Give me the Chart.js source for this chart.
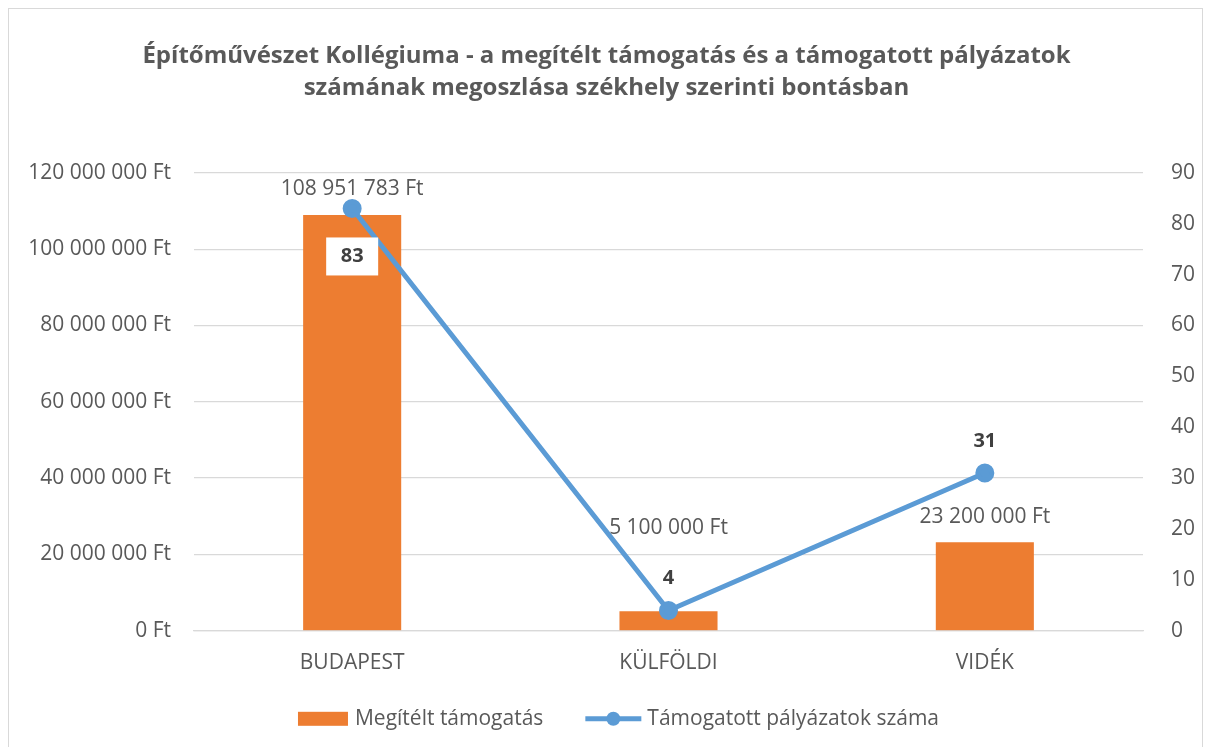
<!DOCTYPE html>
<html>
<head>
<meta charset="utf-8">
<script src="https://cdn.jsdelivr.net/npm/chart.js@4"></script>
<style>
  html, body { margin: 0; padding: 0; background: #fff; }
  #wrap { position: absolute; left: 8px; top: 8px; width: 1195px; height: 739px; border: 1px solid #d9d9d9; border-bottom: none; box-sizing: border-box; }
  canvas { position: absolute; left: 0; top: 0; }
</style>
</head>
<body>
<div id="wrap"><canvas id="myChart" width="1195" height="739"></canvas></div>
<script>
const labels = ['BUDAPEST', 'KÜLFÖLDI', 'VIDÉK'];
const tamogatas = [108951783, 5100000, 23200000];
const palyazatok = [83, 4, 31];

// label offsets in px (style only)
const barLabelOffsets = [-26, -83, -25];
const pointLabelOffsets = [48, -32, -32];

const gray = '#595959';
const font = '"Open Sans", sans-serif';
const orange = '#ed7d31';
const blue = '#5b9bd5';

function ft(v) {
  return String(Math.round(v)).replace(/\B(?=(\d{3})+(?!\d))/g, ' ') + ' Ft';
}

const labelPlugin = {
  id: 'labels',
  afterDatasetsDraw(chart) {
    const ctx = chart.ctx;
    ctx.save();
    ctx.textAlign = 'center';
    ctx.textBaseline = 'middle';
    const bars = chart.getDatasetMeta(1).data;
    ctx.font = '21px ' + font;
    ctx.fillStyle = gray;
    bars.forEach((b, i) => {
      ctx.fillText(ft(tamogatas[i]), b.x, b.y + barLabelOffsets[i]);
    });
    const pts = chart.getDatasetMeta(0).data;
    ctx.font = 'bold 20px ' + font;
    pts.forEach((p, i) => {
      const y = p.y + pointLabelOffsets[i];
      const txt = String(palyazatok[i]);
      if (pointLabelOffsets[i] > 0) {
        ctx.fillStyle = '#fff';
        ctx.fillRect(p.x - 26, y - 19, 52, 38);
      }
      ctx.fillStyle = '#404040';
      ctx.fillText(txt, p.x, y);
    });
    ctx.restore();
  },
  afterDraw(chart) {
    // legend
    const ctx = chart.ctx;
    ctx.save();
    ctx.font = '21px ' + font;
    ctx.textBaseline = 'middle';
    const t1 = 'Megítélt támogatás';
    const t2 = 'Támogatott pályázatok száma';
    const w1 = ctx.measureText(t1).width;
    const w2 = ctx.measureText(t2).width;
    const total = 50 + 7 + w1 + 42 + 56 + 6 + w2;
    let x = chart.width / 2 - total / 2 + 12;
    const y = chart.chartArea.bottom + 88;
    ctx.fillStyle = orange;
    ctx.fillRect(x, y - 7, 50, 14);
    x += 57;
    ctx.fillStyle = gray;
    ctx.fillText(t1, x, y);
    x += w1 + 42;
    ctx.strokeStyle = blue;
    ctx.lineWidth = 5;
    ctx.beginPath();
    ctx.moveTo(x, y);
    ctx.lineTo(x + 56, y);
    ctx.stroke();
    ctx.fillStyle = blue;
    ctx.beginPath();
    ctx.arc(x + 28, y, 7, 0, Math.PI * 2);
    ctx.fill();
    x += 62;
    ctx.fillStyle = gray;
    ctx.fillText(t2, x, y);
    ctx.restore();
  }
};

const data = {
  labels: labels,
  datasets: [
    {
      type: 'line',
      label: 'Támogatott pályázatok száma',
      data: palyazatok,
      yAxisID: 'y2',
      borderColor: blue,
      backgroundColor: blue,
      borderWidth: 5,
      pointRadius: 7,
      pointHoverRadius: 7,
      tension: 0,
      order: 0
    },
    {
      type: 'bar',
      label: 'Megítélt támogatás',
      data: tamogatas,
      yAxisID: 'y',
      backgroundColor: orange,
      categoryPercentage: 1,
      barPercentage: 0.31,
      order: 1
    }
  ]
};

const config = {
  data: data,
  plugins: [labelPlugin],
  options: {
    responsive: false,
    animation: false,
    layout: { padding: { left: 0, right: 0, top: 31, bottom: 60 } },
    plugins: {
      title: {
        display: true,
        text: ['Építőművészet Kollégiuma - a megítélt támogatás és a támogatott pályázatok', 'számának megoszlása székhely szerinti bontásban'],
        color: gray,
        font: { family: font, size: 24, weight: 'bold', lineHeight: 1.33 },
        padding: { top: 0, bottom: 69 }
      },
      legend: { display: false },
      tooltip: { enabled: false }
    },
    scales: {
      x: {
        grid: { display: false },
        border: { color: '#d9d9d9', width: 1.3 },
        ticks: { color: gray, font: { family: font, size: 21 }, padding: 12 }
      },
      y: {
        position: 'left',
        min: 0,
        max: 120000000,
        afterFit: s => { s.width = 185; },
        ticks: { stepSize: 20000000, color: gray, font: { family: font, size: 21 }, padding: 23, callback: v => ft(v) },
        grid: { color: '#d9d9d9', drawTicks: false, lineWidth: 1.3 },
        border: { display: false }
      },
      y2: {
        position: 'right',
        min: 0,
        max: 90,
        afterFit: s => { s.width = 61; },
        ticks: { stepSize: 10, color: gray, font: { family: font, size: 21 }, padding: 28 },
        grid: { display: false, drawTicks: false },
        border: { display: false }
      }
    }
  }
};

new Chart(document.getElementById('myChart'), config);
</script>
</body>
</html>
